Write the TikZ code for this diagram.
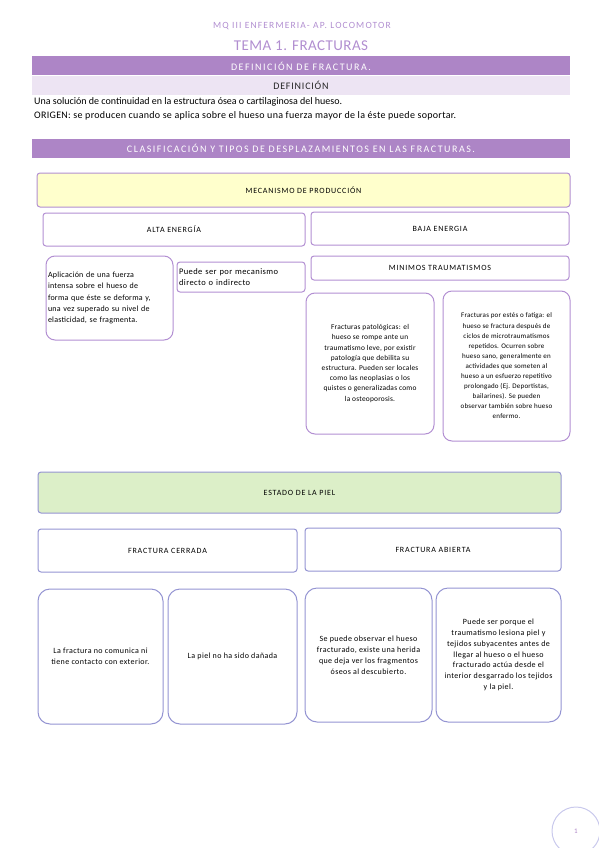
\documentclass[tikz,border=0pt]{standalone}
\usepackage{fontspec}
\setmainfont{Carlito}
\newfontfamily\headfont[LetterSpace=12]{Carlito}
\newfontfamily\bandfont[LetterSpace=15]{Carlito}
\newfontfamily\subbandfont[LetterSpace=8]{Carlito}
\newfontfamily\labelfont[LetterSpace=10]{Carlito}
\newfontfamily\notefont[LetterSpace=3]{Carlito}
\newfontfamily\skinfont[LetterSpace=5]{Carlito}
\usetikzlibrary{positioning}

\definecolor{headpurple}{HTML}{B18ED0}
\definecolor{bandpurple}{HTML}{AD85C6}
\definecolor{bandlight}{HTML}{EDE4F3}
\definecolor{boxpurple}{HTML}{B28FD2}
\definecolor{boxblue}{HTML}{9494D2}
\definecolor{mecyellow}{HTML}{FFFFCC}
\definecolor{pielgreen}{HTML}{DCEFC8}
\definecolor{pagecircle}{HTML}{C9C9EC}

\begin{document}
\begin{tikzpicture}[
    x=1pt, y=-1pt,
    band/.style={fill=bandpurple, text=white, minimum width=538pt, minimum height=19pt, inner sep=0pt, font=\bandfont\fontsize{10}{11}\selectfont},
    subband/.style={band, fill=bandlight, text=black!85, font=\subbandfont\fontsize{10}{11}\selectfont},
    bodytext/.style={anchor=west, inner sep=0pt, font=\fontsize{10}{11}\selectfont},
    titlebox/.style={rectangle, rounded corners=3pt, draw=boxpurple, line width=1pt, inner sep=0pt, font=\labelfont\fontsize{8}{9}\selectfont},
    notebox/.style={rectangle, rounded corners=9pt, draw=boxpurple, line width=1pt, inner sep=0pt, align=center, font=\notefont\fontsize{7.4}{10.2}\selectfont},
    skinbox/.style={titlebox, draw=boxblue},
    skinnote/.style={notebox, draw=boxblue, rounded corners=12pt, font=\skinfont\fontsize{8}{11}\selectfont}
]
\useasboundingbox (0,0) rectangle (599,848);

% Cabecera
\node[text=headpurple, font=\headfont\fontsize{9.5}{10}\selectfont] (asignatura) at (302,26) {MQ III ENFERMERIA- AP. LOCOMOTOR};
\node[text=headpurple, font=\notefont\fontsize{15}{17}\selectfont] (tema) at (301,46) {TEMA 1. FRACTURAS};

% Definicion
\node[band] (defband) at (301,66) {DEFINICIÓN DE FRACTURA.};
\node[subband] (defsub) at (301,85.5) {DEFINICIÓN};
\node[bodytext] (defuno) at (34,102) {Una solución de continuidad en la estructura ósea o cartilaginosa del hueso.};
\node[bodytext, font=\notefont\fontsize{10}{11}\selectfont] (defdos) at (34,116) {ORIGEN: se producen cuando se aplica sobre el hueso una fuerza mayor de la éste puede soportar.};

% Clasificacion
\node[band] (clasband) at (301,148.5) {CLASIFICACIÓN Y TIPOS DE DESPLAZAMIENTOS EN LAS FRACTURAS.};

% Mecanismo de produccion
\node[titlebox, fill=mecyellow, minimum width=533pt, minimum height=34pt] (mecanismo) at (303.5,190) {MECANISMO DE PRODUCCIÓN};
\node[titlebox, minimum width=262pt, minimum height=33pt] (alta) at (174,229.5) {ALTA ENERGÍA};
\node[titlebox, minimum width=258pt, minimum height=33pt] (baja) at (440,228.5) {BAJA ENERGIA};
\node[notebox, align=left, text width=123pt, inner xsep=2pt, minimum height=84pt, font=\notefont\fontsize{8}{11.3}\selectfont] (aplicacion) at (109.5,298) {Aplicación de una fuerza\\intensa sobre el hueso de\\forma que éste se deforma y,\\una vez superado su nivel de\\elasticidad, se fragmenta.};
\node[titlebox, align=left, text width=124pt, inner xsep=2pt, minimum height=30pt, font=\skinfont\fontsize{8.5}{11}\selectfont] (directo) at (241,277) {Puede ser por mecanismo\\directo o indirecto};
\node[titlebox, minimum width=258pt, minimum height=24pt] (minimos) at (440,268) {MINIMOS TRAUMATISMOS};
\node[notebox, minimum width=128pt, minimum height=141pt] (patologicas) at (370,363.5) {Fracturas patológicas: el\\hueso se rompe ante un\\traumatismo leve, por existir\\patología que debilita su\\estructura. Pueden ser locales\\como las neoplasias o los\\quistes o generalizadas como\\la osteoporosis.};
\node[notebox, minimum width=127pt, minimum height=150pt, font=\notefont\fontsize{7}{10.1}\selectfont] (estres) at (506.5,366) {Fracturas por estés o fatiga: el\\hueso se fractura después de\\ciclos de microtraumatismos\\repetidos. Ocurren sobre\\hueso sano, generalmente en\\actividades que someten al\\hueso a un esfuerzo repetitivo\\prolongado (Ej. Deportistas,\\bailarines). Se pueden\\observar también sobre hueso\\enfermo.};

% Estado de la piel
\node[skinbox, fill=pielgreen, minimum width=523pt, minimum height=41pt] (piel) at (299.5,492.5) {ESTADO DE LA PIEL};
\node[skinbox, minimum width=259pt, minimum height=43pt] (cerrada) at (167.5,550.5) {FRACTURA CERRADA};
\node[skinbox, minimum width=256pt, minimum height=43pt] (abierta) at (433,549.5) {FRACTURA ABIERTA};
\node[skinnote, minimum width=125pt, minimum height=135pt] (nocomunica) at (100.5,656.5) {La fractura no comunica ni\\tiene contacto con exterior.};
\node[skinnote, minimum width=129pt, minimum height=135pt] (nodanada) at (232.5,656.5) {La piel no ha sido dañada};
\node[skinnote, minimum width=127pt, minimum height=134pt] (herida) at (368.5,655) {Se puede observar el hueso\\fracturado, existe una herida\\que deja ver los fragmentos\\óseos al descubierto.};
\node[skinnote, minimum width=125pt, minimum height=134pt, font=\skinfont\fontsize{8}{10.8}\selectfont] (desgarro) at (498.5,655) {Puede ser porque el\\traumatismo lesiona piel y\\tejidos subyacentes antes de\\llegar al hueso o el hueso\\fracturado actúa desde el\\interior desgarrado los tejidos\\y la piel.};

% Numero de pagina
\node[circle, draw=pagecircle, line width=1pt, minimum size=48pt, text=bandpurple, font=\fontsize{7}{8}\selectfont] (pagina) at (576,831) {1};

\end{tikzpicture}
\end{document}
